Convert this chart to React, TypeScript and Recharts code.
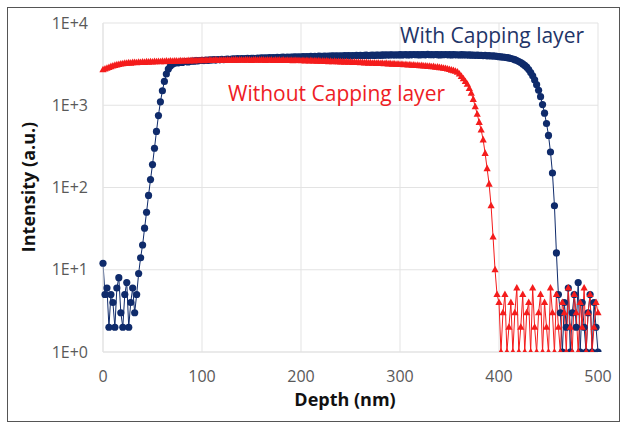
import React from "react";
import { CartesianGrid, Line, LineChart, XAxis, YAxis } from "recharts";

// depth grid, nm
const depthStart = 0;
const depthStep = 2;

const withCapping = [
  12, 5, 6, 2, 5, 4, 2, 6, 8, 3, 2, 5, 7, 2, 4, 6, 3, 5, 9,
  14, 20, 32, 50, 80, 125, 190, 300, 480, 750, 1100, 1500, 1950, 2400, 2750, 3000, 3150,
  3250, 3300, 3280, 3350, 3320, 3380, 3400, 3360, 3420, 3450,
  3430, 3480, 3460, 3500, 3520, 3490, 3540, 3510, 3560, 3550,
  3580, 3540, 3600, 3570, 3620, 3590, 3610, 3650, 3600, 3640,
  3660, 3630, 3680, 3650, 3700, 3670, 3690, 3720, 3680, 3710,
  3730, 3700, 3750, 3720, 3760, 3740, 3780, 3750, 3790, 3770,
  3800, 3770, 3820, 3790, 3810, 3840, 3800, 3850, 3820, 3860,
  3840, 3870, 3850, 3880, 3860, 3900, 3870, 3910, 3880, 3920,
  3900, 3930, 3910, 3950, 3920, 3940, 3960, 3930, 3970, 3950,
  3980, 3950, 3990, 3970, 4000, 3960, 4010, 3990, 4020, 3980,
  4020, 4000, 4040, 4010, 4050, 4020, 4030, 4060, 4020, 4050,
  4070, 4030, 4060, 4080, 4040, 4090, 4060, 4100, 4070, 4090,
  4110, 4070, 4100, 4080, 4120, 4090, 4110, 4130, 4080, 4120,
  4100, 4140, 4110, 4130, 4090, 4140, 4120, 4100, 4150, 4110,
  4130, 4100, 4140, 4120, 4090, 4130, 4110, 4140, 4100, 4120,
  4090, 4130, 4100, 4110, 4080, 4120, 4090, 4100, 4070, 4090,
  4060, 4080, 4040, 4070, 4030, 4050, 4010, 4040, 3990, 4010,
  3970, 3990, 3950, 3930, 3900, 3880, 3850, 3830, 3790, 3760,
  3700, 3650, 3580, 3500, 3400,
  3300, 3180, 3050, 2900, 2720, 2500, 2280, 2030, 1780, 1520,
  1270, 1020, 800, 600, 430, 270, 150, 60, 16, 5,
  3, 1, 4, 2, 6, 1, 3, 5, 2, 7, 1, 4, 2, 1, 3, 5, 1, 4, 2, 1,
];

const withoutCapping = [
  2700, 2760, 2820, 2880, 2950, 3000, 3060, 3100, 3140, 3180,
  3200, 3230, 3250, 3280, 3260, 3300, 3320, 3290, 3340, 3320,
  3350, 3330, 3370, 3350, 3390, 3360, 3400, 3380, 3410, 3390,
  3420, 3400, 3440, 3410, 3450, 3420, 3440, 3460, 3430, 3470,
  3450, 3480, 3460, 3490, 3470, 3500, 3470, 3510, 3480, 3500,
  3520, 3490, 3530, 3500, 3540, 3510, 3530, 3550, 3510, 3540,
  3520, 3550, 3530, 3560, 3520, 3550, 3540, 3570, 3530, 3550,
  3560, 3530, 3570, 3540, 3560, 3520, 3550, 3570, 3530, 3560,
  3540, 3560, 3520, 3550, 3530, 3560, 3510, 3540, 3520, 3550,
  3510, 3540, 3500, 3530, 3510, 3520, 3490, 3520, 3500, 3510,
  3480, 3510, 3470, 3500, 3460, 3490, 3450, 3480, 3440, 3470,
  3430, 3460, 3420, 3450, 3400, 3430, 3390, 3420, 3380, 3400,
  3370, 3390, 3350, 3380, 3340, 3360, 3320, 3350, 3310, 3330,
  3300, 3320, 3280, 3300, 3260, 3290, 3250, 3270, 3230, 3260,
  3220, 3240, 3200, 3230, 3190, 3210, 3170, 3190, 3150, 3170,
  3130, 3150, 3110, 3130, 3090, 3110, 3070, 3080, 3050, 3060,
  3030, 3040, 3000, 3010, 2970, 2980, 2940, 2950, 2900, 2910,
  2870, 2860, 2820, 2800, 2760, 2730, 2680, 2640, 2590, 2530,
  2400, 2250, 2100, 1950, 1800, 1600, 1400, 1180, 960, 780,
  620, 500, 380, 260, 170, 110, 60, 25, 10, 5,
  4, 1, 3, 5, 1, 2, 4, 1, 3, 6, 1, 2, 5, 1, 3, 4, 1, 6, 2, 1,
  3, 5, 1, 4, 2, 1, 6, 3, 1, 5, 2, 1, 4, 3, 1, 6, 2, 1, 5, 3,
  1, 4, 2, 6, 1, 3, 5, 1, 2, 4, 3,
];

const xTicks = [0, 100, 200, 300, 400, 500];
const yTicks = [1, 10, 100, 1000, 10000];
const yTickLabels = ["1E+0", "1E+1", "1E+2", "1E+3", "1E+4"];

const NAVY = "#0f2b6b";
const RED = "#f41c1c";
const FONT = "'Open Sans', sans-serif";

const data = withCapping.map((v, i) => ({
  depth: depthStart + i * depthStep,
  withCap: v,
  withoutCap: withoutCapping[i],
}));

const Circle = (props: any) => {
  const { cx, cy, index } = props;
  if (cx == null || cy == null) return <g key={`c${index}`} />;
  return <circle key={`c${index}`} cx={cx} cy={cy} r={3.6} fill={NAVY} />;
};

const Triangle = (props: any) => {
  const { cx, cy, index } = props;
  if (cx == null || cy == null) return <g key={`t${index}`} />;
  return (
    <path
      key={`t${index}`}
      d={`M${cx},${cy - 4} L${cx + 3.6},${cy + 2.6} L${cx - 3.6},${cy + 2.6} Z`}
      fill={RED}
    />
  );
};

const tickStyle = { fill: "#595959", fontSize: 16, fontFamily: FONT };

export default function App() {
  return (
    <div
      style={{
        position: "absolute",
        left: 7,
        top: 7,
        width: 613,
        height: 415,
        boxSizing: "border-box",
        border: "1px solid #555",
        background: "#fff",
        fontFamily: FONT,
      }}
    >
      <LineChart
        width={611}
        height={413}
        data={data}
        margin={{ top: 15, right: 21, left: 35, bottom: 39 }}
      >
        <CartesianGrid stroke="#e3e3e3" />
        <XAxis
          dataKey="depth"
          type="number"
          domain={[0, 500]}
          ticks={xTicks}
          axisLine={{ stroke: "#e3e3e3" }}
          tickLine={false}
          tickSize={0}
          tickMargin={19}
          height={30}
          tick={tickStyle}
        />
        <YAxis
          type="number"
          scale="log"
          domain={[1, 10000]}
          ticks={yTicks}
          allowDataOverflow
          tickFormatter={(v: number) => yTickLabels[yTicks.indexOf(v)] ?? ""}
          axisLine={{ stroke: "#e3e3e3" }}
          tickLine={false}
          tickSize={0}
          tickMargin={15}
          width={60}
          tick={tickStyle}
        />
        <Line
          dataKey="withCap"
          stroke={NAVY}
          strokeWidth={1}
          dot={Circle}
          activeDot={false}
          isAnimationActive={false}
        />
        <Line
          dataKey="withoutCap"
          stroke={RED}
          strokeWidth={1}
          dot={Triangle}
          activeDot={false}
          isAnimationActive={false}
        />
      </LineChart>
      <div
        style={{
          position: "absolute",
          left: 392,
          top: 13,
          fontSize: 21,
          color: "#1f3568",
          whiteSpace: "nowrap",
        }}
      >
        With Capping layer
      </div>
      <div
        style={{
          position: "absolute",
          left: 220,
          top: 71,
          fontSize: 21,
          color: "#ee1c25",
          whiteSpace: "nowrap",
        }}
      >
        Without Capping layer
      </div>
      <div
        style={{
          position: "absolute",
          left: 0,
          top: 379,
          width: 674,
          textAlign: "center",
          fontSize: 18,
          fontWeight: 700,
          color: "#111",
        }}
      >
        Depth (nm)
      </div>
      <div
        style={{
          position: "absolute",
          left: 20,
          top: 179,
          transform: "translate(-50%, -50%) rotate(-90deg)",
          fontSize: 18,
          fontWeight: 700,
          color: "#111",
          whiteSpace: "nowrap",
        }}
      >
        Intensity (a.u.)
      </div>
    </div>
  );
}
